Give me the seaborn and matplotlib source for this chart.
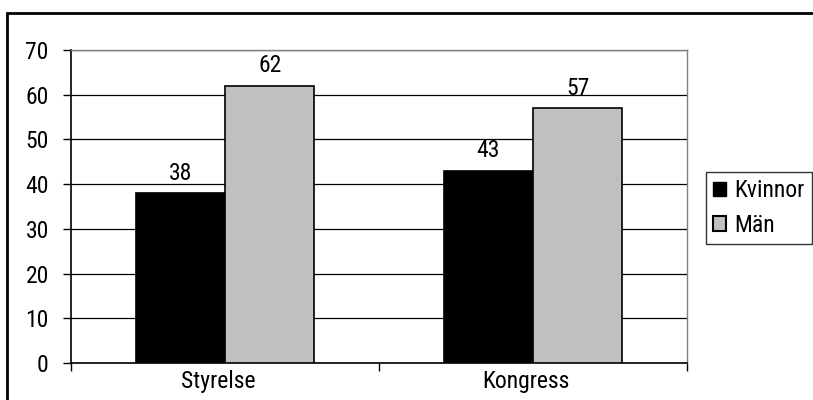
import pandas as pd
import matplotlib
matplotlib.use("Agg")
import matplotlib.pyplot as plt
import matplotlib.patches as mpatches
import matplotlib.transforms as mtransforms
import seaborn as sns

# Data
categories = ["Styrelse", "Kongress"]
kvinnor = [38, 43]
man = [62, 57]
series_names = ["Kvinnor", "Män"]

df = pd.DataFrame({
    "Kategori": categories * 2,
    "Kön": [series_names[0]] * 2 + [series_names[1]] * 2,
    "Andel": kvinnor + man,
})

sns.set_theme(style="white")
plt.rcParams["font.family"] = ["Roboto Condensed", "DejaVu Sans"]
plt.rcParams["text.color"] = "black"
plt.rcParams["xtick.color"] = "black"
plt.rcParams["ytick.color"] = "black"

FS = 17

fig = plt.figure(figsize=(8.13, 4.0), dpi=100)
ax = fig.add_axes([71 / 813, 1 - 363 / 400, (687 - 71) / 813, (363 - 50) / 400])

sns.barplot(data=df, x="Kategori", y="Andel", hue="Kön",
            palette=["#000000", "#C0C0C0"], edgecolor="black", linewidth=1.2,
            width=0.58, ax=ax, legend=False, zorder=3)

# Value labels
for cont in ax.containers:
    ax.bar_label(cont, fontsize=FS, padding=6, color="black")

ax.set_ylim(0, 70)
ax.set_xlim(-0.5, 1.5)
ax.set_yticks(range(0, 71, 10))
ax.set_xlabel("")
ax.set_ylabel("")
ax.yaxis.grid(True, color="black", linewidth=0.9, zorder=0)
ax.set_axisbelow(True)

# Excel-like ticks between categories
ax.set_xticks([-0.5, 0.5, 1.5], minor=True)
ax.tick_params(axis="x", which="major", length=0, labelsize=FS, pad=5)
ax.tick_params(axis="x", which="minor", length=6, width=1, color="black", direction="out", bottom=True)
ax.tick_params(axis="y", length=6, width=1, color="black", direction="out", left=True, labelsize=FS, pad=10)

# category labels sit a little left of centre in the original
shift = mtransforms.ScaledTranslation(-7 / 100, 0, fig.dpi_scale_trans)
for lab in ax.get_xticklabels():
    lab.set_transform(lab.get_transform() + shift)

for s in ["left", "bottom"]:
    ax.spines[s].set_color("black")
    ax.spines[s].set_linewidth(1.2)
for s in ["top", "right"]:
    ax.spines[s].set_color("#808080")
    ax.spines[s].set_linewidth(1)

# Legend
handles = [mpatches.Patch(facecolor="#000000", edgecolor="black", label=series_names[0]),
           mpatches.Patch(facecolor="#C0C0C0", edgecolor="black", linewidth=1.5, label=series_names[1])]
leg = fig.legend(handles=handles, loc="upper left", bbox_to_anchor=(706 / 813, 1 - 172 / 400),
                 frameon=True, fancybox=False, edgecolor="black", fontsize=FS,
                 handlelength=0.55, handleheight=0.55, handletextpad=0.35,
                 borderpad=0.3, labelspacing=0.5, borderaxespad=0)
leg.get_frame().set_linewidth(1)

# Outer chart border
fig.add_artist(mpatches.Rectangle((7 / 813, -0.1), 1.1, 1 - 13 / 400 + 0.1,
                                  transform=fig.transFigure, fill=False,
                                  edgecolor="black", linewidth=2, clip_on=False))

fig.savefig("out.png", dpi=100)
